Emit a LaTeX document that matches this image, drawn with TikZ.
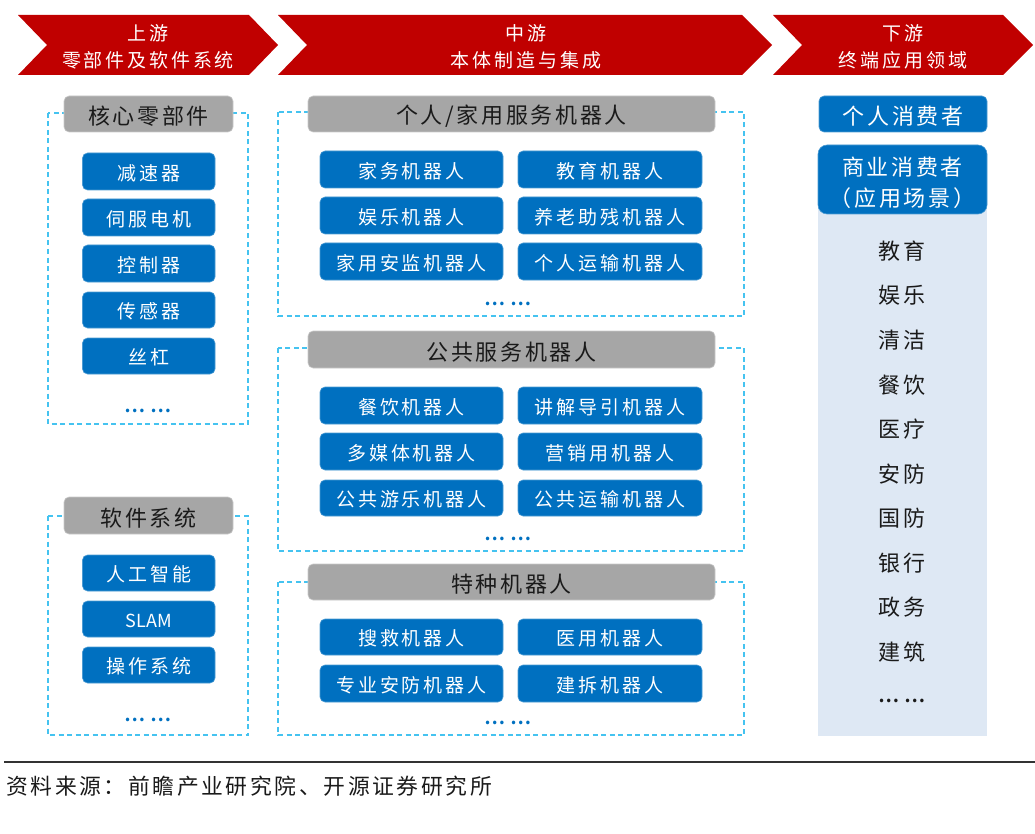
\documentclass[tikz,border=0pt]{standalone}
\usepackage{fontspec}
\setmainfont{Noto Sans CJK SC}
\newfontfamily\cjksmall[LetterSpace=15]{Noto Sans CJK SC}
\newfontfamily\cjkbig[LetterSpace=12]{Noto Sans CJK SC}
\newfontfamily\cjkdots{Noto Sans CJK SC Bold}
\usetikzlibrary{shapes.misc}
\definecolor{chevred}{HTML}{C00000}
\definecolor{btnblue}{HTML}{0070C0}
\definecolor{hdgray}{HTML}{A6A6A6}
\definecolor{dashblue}{HTML}{45C3F0}
\definecolor{panelblue}{HTML}{DEE8F4}
\definecolor{inkblack}{HTML}{1A1A1A}
\newcommand{\txtdrop}{1.5pt}
\tikzset{
  x=1pt,y=-1pt,
  chev/.style={fill=chevred,draw=none},
  chevtext/.style={text=white,align=center,font=\cjksmall\fontsize{19}{27}\selectfont,inner sep=0pt},
  hdr/.style={fill=hdgray,draw=hdgray!60!white,line width=.6pt,rounded corners=5pt,font=\cjkbig\fontsize{22}{24}\selectfont\renewcommand{\txtdrop}{2.5pt},text=inkblack,inner sep=0pt},
  btn/.style={fill=btnblue,draw=btnblue!70!white,line width=.6pt,rounded corners=5pt,font=\cjksmall\fontsize{19}{22}\selectfont,text=white,inner sep=0pt},
  bigbtn/.style={fill=btnblue,draw=btnblue!70!white,line width=.6pt,rounded corners=9pt,font=\cjkbig\fontsize{22}{31}\selectfont,text=white,inner sep=0pt,align=center},
  dashbox/.style={draw=dashblue,line width=1.5pt,dash pattern=on 5pt off 3.5pt},
  more/.style={text=btnblue,font=\cjkdots\fontsize{19}{19}\selectfont,inner sep=0pt},
  item/.style={text=inkblack,font=\cjkbig\fontsize{22}{24}\selectfont,inner sep=0pt},
}
\newcommand{\lbl}[7][btn]{\node[#1,minimum width=#5-#4,minimum height=#7-#6] (#3) at ({(#4+#5)/2},{(#6+#7)/2}) {\raisebox{-\txtdrop}[\height][\depth]{#2}};}
\newcommand{\dotsgap}{…\hspace{6pt}…}
\begin{document}
\begin{tikzpicture}
\useasboundingbox (0,0) rectangle (1035,834);
% chevrons
\path[chev] (18,15) -- (249,15) -- (278,45) -- (249,75) -- (18,75) -- (47,45) -- cycle;
\path[chev] (278,15) -- (742,15) -- (772,45) -- (742,75) -- (278,75) -- (307,45) -- cycle;
\path[chev] (773,15) -- (1003,15) -- (1033,45) -- (1003,75) -- (773,75) -- (802,45) -- cycle;
\node[chevtext] (up) at (148,47) {上游\\零部件及软件系统};
\node[chevtext] (mid) at (526,47) {中游\\本体制造与集成};
\node[chevtext] (down) at (903,47) {下游\\终端应用领域};
% dashed frames
\draw[dashbox] (48,113) rectangle (248,424);
\draw[dashbox] (48,516) rectangle (248,735);
\draw[dashbox] (278,112) rectangle (744,316);
\draw[dashbox] (278,348) rectangle (744,551);
\draw[dashbox] (278,582) rectangle (744,735);
% headers
\lbl[hdr]{核心零部件}{h1}{64}{233}{96}{132}
\lbl[hdr]{软件系统}{h2}{64}{233}{497}{534}
\lbl[hdr]{个人/家用服务机器人}{h3}{308}{715}{96}{132}
\lbl[hdr]{公共服务机器人}{h4}{308}{715}{331}{368}
\lbl[hdr]{特种机器人}{h5}{308}{715}{564}{600}
% left column
\lbl{减速器}{a1}{82.5}{215}{153}{190}
\lbl{伺服电机}{a2}{82.5}{215}{199}{236}
\lbl{控制器}{a3}{82.5}{215}{245}{282}
\lbl{传感器}{a4}{82.5}{215}{292}{328}
\lbl{丝杠}{a5}{82.5}{215}{338}{374}
\node[more] (am) at (148,411) {\dotsgap};
\lbl{人工智能}{b1}{82.5}{215}{555}{591}
\lbl[btn,font=\fontsize{18}{22}\selectfont]{SLAM}{b2}{82.5}{215}{601}{637}
\lbl{操作系统}{b3}{82.5}{215}{647}{683}
\node[more] (bm) at (148,720) {\dotsgap};
% middle: personal
\lbl{家务机器人}{c1}{320}{503}{151}{188}
\lbl{教育机器人}{c2}{518}{702}{151}{188}
\lbl{娱乐机器人}{c3}{320}{503}{197}{234}
\lbl{养老助残机器人}{c4}{518}{702}{197}{234}
\lbl{家用安监机器人}{c5}{320}{503}{243}{280}
\lbl{个人运输机器人}{c6}{518}{702}{243}{280}
\node[more] (cm) at (508,304) {\dotsgap};
% middle: public
\lbl{餐饮机器人}{d1}{320}{503}{387}{424}
\lbl{讲解导引机器人}{d2}{518}{702}{387}{424}
\lbl{多媒体机器人}{d3}{320}{503}{433}{470}
\lbl{营销用机器人}{d4}{518}{702}{433}{470}
\lbl{公共游乐机器人}{d5}{320}{503}{480}{516}
\lbl{公共运输机器人}{d6}{518}{702}{480}{516}
\node[more] (dm) at (508,539) {\dotsgap};
% middle: special
\lbl{搜救机器人}{e1}{320}{503}{619}{655}
\lbl{医用机器人}{e2}{518}{702}{619}{655}
\lbl{专业安防机器人}{e3}{320}{503}{665}{702}
\lbl{建拆机器人}{e4}{518}{702}{665}{702}
\node[more] (em) at (508,723) {\dotsgap};
% right column
\fill[panelblue] (818,200) rectangle (987,736);
\lbl[hdr,fill=btnblue,draw=btnblue!70!white,text=white]{个人消费者}{f1}{819}{987}{96}{132}
\node[bigbtn,minimum width=169,minimum height=69] (f2) at (902.5,179.5) {\rule{0pt}{25pt}商业消费者\\（应用场景）};
\node[item] (g1) at (902,251) {教育};
\node[item] (g2) at (902,295) {娱乐};
\node[item] (g3) at (902,340) {清洁};
\node[item] (g4) at (902,385) {餐饮};
\node[item] (g5) at (902,429) {医疗};
\node[item] (g6) at (902,474) {安防};
\node[item] (g7) at (902,518) {国防};
\node[item] (g8) at (902,563) {银行};
\node[item] (g9) at (902,607) {政务};
\node[item] (g10) at (902,652) {建筑};
\node[more,text=inkblack] (g11) at (902,701) {\dotsgap};
% footer
\draw[line width=1.2pt,draw=black!80] (4,762) -- (1035,762);
\node[anchor=west,inner sep=0pt,text=inkblack,font=\cjkbig\fontsize{21.8}{24}\selectfont] (src) at (6,786.5) {资料来源：前瞻产业研究院、开源证券研究所};
\end{tikzpicture}
\end{document}
